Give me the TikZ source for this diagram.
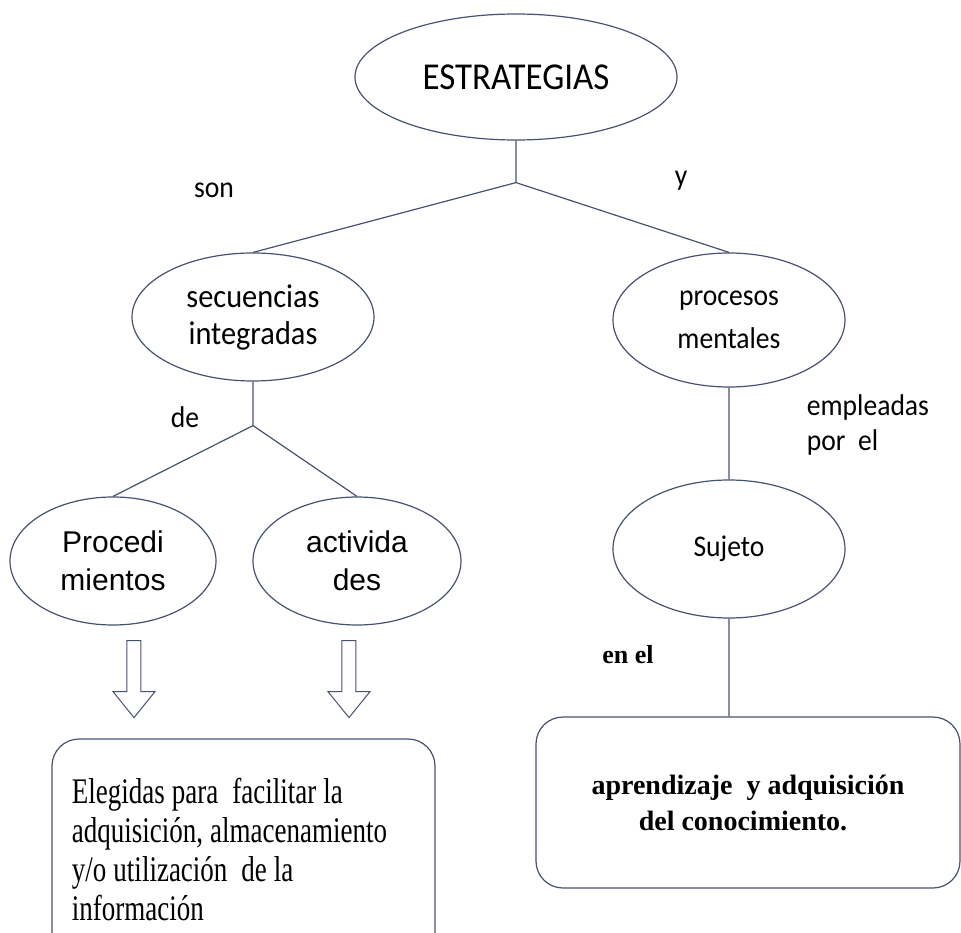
\documentclass[tikz,border=0pt]{standalone}
\usepackage{fontspec}
\setmainfont{Liberation Serif}
\newfontfamily\calibfont[FakeStretch=0.92]{Carlito}
\newfontfamily\arialfont{Liberation Sans}
\newfontfamily\narrowserif[FakeStretch=0.75]{Liberation Serif}
\usetikzlibrary{shapes.geometric,positioning}
\definecolor{linegray}{HTML}{465270}

\begin{document}
\begin{tikzpicture}[x=1pt,y=1pt,line width=1.2pt,
                    concept/.style={ellipse,draw=linegray,align=center,inner sep=0pt},
                    note/.style={draw=linegray,rounded corners=27pt,inner sep=0pt},
                    link/.style={draw=linegray},
                    lbl/.style={font=\calibfont\fontsize{30}{35}\selectfont},
                    hollow/.style={draw=linegray,line width=1pt}]
   \useasboundingbox (-516,77) rectangle (445,-856);
   \node[concept,minimum width=322pt,minimum height=126pt,
         font=\calibfont\fontsize{38}{44}\selectfont] (estr) {ESTRATEGIAS};
   \node[concept,minimum width=242pt,minimum height=128pt,
         font=\calibfont\fontsize{33}{37}\selectfont] (sec)
         [below of=estr,node distance=240pt,xshift=-263pt] {secuencias\\integradas};
   \node[concept,minimum width=232pt,minimum height=134pt,
         font=\calibfont\fontsize{30}{43}\selectfont] (proc)
         [below of=estr,node distance=243pt,xshift=213pt] {procesos\\mentales};
   \node[concept,minimum width=206pt,minimum height=128pt,
         font=\arialfont\fontsize{30}{38}\selectfont] (procd)
         [below of=sec,node distance=244pt,xshift=-140pt] {Procedi\\mientos};
   \node[concept,minimum width=208pt,minimum height=128pt,
         font=\arialfont\fontsize{30}{38}\selectfont] (activ)
         [below of=sec,node distance=244pt,xshift=104pt] {activida\\des};
   \node[concept,minimum width=232pt,minimum height=138pt,
         font=\calibfont\fontsize{30}{35}\selectfont] (suj)
         [below of=proc,node distance=229pt] {Sujeto};
   \node[note,minimum height=221pt,text width=343pt,inner xsep=20pt,align=left,
         font=\narrowserif\fontsize{36}{39.3}\selectfont] (uso)
         [below of=procd,node distance=288.5pt,xshift=130.5pt]
         {\spaceskip=7pt\relax Elegidas para~ facilitar la\\adquisición, almacenamiento\\y/o utilización~ de la\\información};
   \node[note,minimum width=424pt,minimum height=171pt,align=center,
         font=\bfseries\fontsize{28}{36}\selectfont] (apr)
         [below of=suj,node distance=253.5pt,xshift=19pt]
         {aprendizaje~ y adquisición\\del conocimiento.\hspace*{10pt}};

   \coordinate (j1) at ([yshift=-42pt]estr.south);
   \coordinate (j2) at ([yshift=-44pt]sec.south);

   \node[lbl] (son) at (-302,-113) {son};
   \node[lbl] (yy) at (165,-104) {y};
   \node[lbl] (de) at (-331,-340) {de};
   \node[lbl,align=left,anchor=west] (emp) at (287,-348) {empleadas\\por~ el};
   \node[font=\bfseries\fontsize{26}{30}\selectfont] (enel) at (112,-578) {en el};

   \path[link] (estr) -- (j1) -- (sec.north)
               (j1) -- (proc.north)
               (sec) -- (j2) -- (procd.north)
               (j2) -- (activ.north)
               (proc) -- (suj)
               (suj.south) -- (suj.south |- apr.north);
   \foreach \n/\dx in {procd/21,activ/-8}
      \draw[hollow] ([shift={(\dx-7,-15)}]\n.south) -- ++(0,-51) -- ++(-14,0)
         -- ++(21,-26) -- ++(21,26) -- ++(-14,0) -- ++(0,51) -- cycle;
\end{tikzpicture}
\end{document}
